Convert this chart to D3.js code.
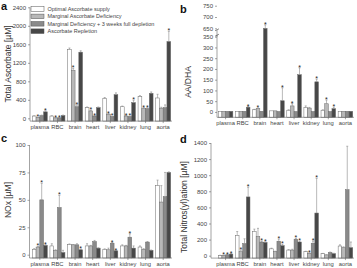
<!DOCTYPE html>
<html lang="en">
<head>
<meta charset="UTF-8">
<title>Ascorbate panels</title>
<script src="https://d3js.org/d3.v7.min.js"></script>
<style>
  body { margin: 0; padding: 0; background: #fff; font-family: "Liberation Sans", Arial, sans-serif; }
  svg text { font-family: "Liberation Sans", Arial, sans-serif; }
</style>
</head>
<body>
<svg id="chart" width="357" height="268"></svg>
<script>
const categories = ["plasma", "RBC", "brain", "heart", "liver", "kidney", "lung", "aorta"];
const seriesNames = ["Optimal Ascorbate supply", "Marginal Ascorbate Deficiency",
  "Marginal Deficiency + 3 weeks full depletion", "Ascorbate Repletion"];

// a - total ascorbate [uM]
const ascOptimal = [50, 50, 1490, 230, 430, 250, 470, 440];
const ascMarginal = [20, 10, 1040, 160, 90, 50, 210, 220];
const ascDepleted = [60, 10, 250, 50, 40, 40, 210, 230];
const ascRepleted = [140, 60, 1430, 230, 510, 340, 540, 1660];
const ascOptimalErr = [5, 5, 30, 15, 20, 15, 20, 80];
const ascMarginalErr = [5, 3, 40, 15, 10, 10, 20, 20];
const ascDepletedErr = [10, 3, 40, 10, 5, 5, 15, 60];
const ascRepletedErr = [20, 10, 30, 15, 40, 50, 30, 220];
const ascStars = [[0, 1], [0, 3], [1, 1], [1, 2], [2, 1], [2, 2], [3, 1], [3, 2], [4, 1], [4, 2],
  [5, 1], [5, 2], [5, 3], [6, 1], [6, 2], [7, 3]];
const ascTicks = [0, 400, 800, 1200, 1600, 2000, 2400];

// b - AA/DHA ratio
const aaOptimal = [3, 3, 10, 5, 8, 20, 8, 3];
const aaMarginal = [3, 3, 15, 5, 28, 18, 38, 3];
const aaDepleted = [3, 3, 3, 2, 2, 2, 2, 3];
const aaRepleted = [3, 22, 645, 52, 173, 140, 15, 3];
const aaOptimalErr = [0, 0, 2, 0, 2, 8, 2, 0];
const aaMarginalErr = [0, 0, 3, 0, 10, 3, 17, 0];
const aaDepletedErr = [0, 0, 0, 0, 0, 0, 0, 0];
const aaRepletedErr = [0, 3, 20, 60, 32, 12, 7, 0];
const aaStars = [[1, 3], [2, 1], [2, 3], [3, 3], [4, 1], [4, 3], [5, 3], [6, 1], [6, 3]];
const aaTicks = [0, 50, 100, 150, 200, 250, 300, 350, 650, 700, 750];

// c - NOx [uM]
const noxOptimal = [5, 8, 9.5, 8, 5, 8, 7, 63];
const noxMarginal = [7, 4, 9, 8, 4.5, 8, 5, 48];
const noxDepleted = [50, 43, 9, 12, 10.5, 16, 11.5, 53];
const noxRepleted = [8.5, 2, 4.5, 6, 3.5, 6, 4, 75];
const noxOptimalErr = [0.5, 2, 0.3, 2, 0.3, 1, 1, 5];
const noxMarginalErr = [0.5, 0.5, 0.3, 0.5, 1.5, 0.5, 0.5, 15];
const noxDepletedErr = [15, 11, 1, 1, 0.5, 3, 0.5, 22];
const noxRepletedErr = [0.5, 2, 0.5, 0.3, 0.3, 2, 0.3, 0.5];
const noxStars = [[0, 1], [0, 2], [0, 3], [1, 2], [2, 3], [4, 2], [4, 3], [5, 2]];
const noxTicks = [0, 25, 50, 75, 100];

// d - total nitros(yl)ation [uM]
const nitOptimal = [3, 250, 300, 85, 70, 50, 25, 120];
const nitMarginal = [5, 50, 240, 50, 70, 30, 10, 100];
const nitDepleted = [10, 150, 170, 180, 205, 155, 40, 820];
const nitRepleted = [20, 730, 165, 125, 170, 530, 25, 100];
const nitOptimalErr = [2, 50, 30, 8, 5, 5, 3, 15];
const nitMarginalErr = [2, 20, 100, 5, 10, 5, 2, 10];
const nitDepletedErr = [3, 60, 10, 25, 10, 25, 5, 540];
const nitRepletedErr = [5, 120, 5, 15, 10, 430, 5, 70];
const nitStars = [[0, 1], [0, 2], [0, 3], [1, 1], [1, 3], [2, 2], [2, 3], [3, 2], [3, 3],
  [4, 2], [4, 3], [5, 1], [5, 2], [5, 3]];
const nitTicks = [0, 200, 400, 600, 800, 1000, 1200, 1400];

const fills = ["#ffffff", "#b8b8b8", "#8a8a8a", "#474747"];
const svg = d3.select("#chart");

function panel(opt) {
  const g = svg.append("g");
  const x = d3.scaleBand().domain(categories).range(opt.xRange);
  const xs = d3.scaleBand().domain(d3.range(4)).range([0, x.bandwidth()]).paddingOuter(0.35);
  const y = d3.scaleLinear().domain(opt.yDomain).range(opt.yRange);
  const base = opt.yRange[0];
  const series = opt.values.map((vals, s) => vals.map((v, i) => ({ s, i, v, e: opt.errors[s][i] })));

  // bars
  series.forEach((rows, s) => {
    g.append("g").selectAll("rect")
      .data(rows)
      .join("rect")
      .attr("x", d => x(categories[d.i]) + xs(s))
      .attr("y", d => y(d.v))
      .attr("width", xs.bandwidth())
      .attr("height", d => base - y(d.v))
      .attr("fill", fills[s])
      .attr("stroke", "#6a6a6a")
      .attr("stroke-width", 0.5);

    // error bars, upward only
    const eb = g.append("g").attr("stroke", "#8a8a8a").attr("stroke-width", 0.6);
    rows.filter(d => d.e > 0).forEach(d => {
      const cx = x(categories[d.i]) + xs(s) + xs.bandwidth() / 2;
      eb.append("line").attr("x1", cx).attr("x2", cx).attr("y1", y(d.v)).attr("y2", y(d.v + d.e));
      eb.append("line").attr("x1", cx - 1).attr("x2", cx + 1).attr("y1", y(d.v + d.e)).attr("y2", y(d.v + d.e));
    });
  });

  // significance stars
  g.append("g").selectAll("text")
    .data(opt.stars)
    .join("text")
    .attr("x", ([i, s]) => x(categories[i]) + xs(s) + xs.bandwidth() / 2)
    .attr("y", ([i, s]) => y(opt.values[s][i] + opt.errors[s][i]) + 2)
    .attr("text-anchor", "middle")
    .attr("font-size", 7)
    .attr("fill", "#222")
    .text("*");

  // y axis
  const ax = opt.axisX;
  const yAxis = g.append("g").attr("transform", `translate(${ax},0)`)
    .call(d3.axisLeft(y).tickValues(opt.ticks).tickSize(2).tickPadding(2).tickFormat(d3.format("d")));
  yAxis.select(".domain").remove();
  yAxis.selectAll("line").attr("stroke", "#666").attr("stroke-width", 0.6);
  yAxis.selectAll("text").attr("font-size", 6).attr("fill", "#444").attr("font-family", null);
  if (opt.breakAt) {
    const [lo, hi] = opt.breakAt;
    g.append("line").attr("x1", ax).attr("x2", ax).attr("y1", base).attr("y2", y(lo) - 1.5)
      .attr("stroke", "#666").attr("stroke-width", 0.6);
    g.append("line").attr("x1", ax).attr("x2", ax).attr("y1", y(hi) + 1.5).attr("y2", opt.yRange[1])
      .attr("stroke", "#666").attr("stroke-width", 0.6);
    [y(lo) - 1.5, y(hi) + 1.5].forEach(yy => {
      g.append("line").attr("x1", ax - 2).attr("x2", ax + 2).attr("y1", yy + 1).attr("y2", yy - 1)
        .attr("stroke", "#444").attr("stroke-width", 0.6);
    });
  } else {
    g.append("line").attr("x1", ax).attr("x2", ax).attr("y1", base).attr("y2", opt.yRange[1])
      .attr("stroke", "#666").attr("stroke-width", 0.6);
  }

  // x axis
  g.append("line").attr("x1", ax).attr("x2", opt.xRange[1]).attr("y1", base).attr("y2", base)
    .attr("stroke", "#666").attr("stroke-width", 0.6);
  const xAxis = g.append("g").attr("transform", `translate(0,${base})`)
    .call(d3.axisBottom(x).tickSize(2).tickPadding(1.5));
  xAxis.select(".domain").remove();
  xAxis.selectAll("line").attr("stroke", "#666").attr("stroke-width", 0.6);
  xAxis.selectAll("text").attr("font-size", 5.8).attr("fill", "#444").attr("font-family", null);

  // y title
  g.append("text")
    .attr("transform", `translate(${opt.titleX},${opt.titleY}) rotate(-90)`)
    .attr("text-anchor", "middle")
    .attr("font-size", 8.5)
    .attr("fill", "#333")
    .text(opt.title);

  // panel letter
  g.append("text")
    .attr("x", opt.letterPos[0]).attr("y", opt.letterPos[1])
    .attr("font-size", 11).attr("font-weight", "bold").attr("fill", "#111")
    .text(opt.letter);
}

panel({
  letter: "a", letterPos: [1, 10],
  title: "Total Ascorbate [\u00b5M]", titleX: 11, titleY: 64,
  xRange: [31, 172], axisX: 30,
  yDomain: [-60, 2400], yRange: [121.1, 7.3], ticks: ascTicks,
  values: [ascOptimal, ascMarginal, ascDepleted, ascRepleted],
  errors: [ascOptimalErr, ascMarginalErr, ascDepletedErr, ascRepletedErr],
  stars: ascStars
});

panel({
  letter: "b", letterPos: [180, 13],
  title: "AA/DHA", titleX: 191, titleY: 82,
  xRange: [217, 354], axisX: 217,
  yDomain: [-25, 350, 650, 750], yRange: [117.3, 36.7, 28.3, 5.7], ticks: aaTicks,
  breakAt: [350, 650],
  values: [aaOptimal, aaMarginal, aaDepleted, aaRepleted],
  errors: [aaOptimalErr, aaMarginalErr, aaDepletedErr, aaRepletedErr],
  stars: aaStars
});

panel({
  letter: "c", letterPos: [1, 142],
  title: "NOx [\u00b5M]", titleX: 11, titleY: 200,
  xRange: [31, 172], axisX: 29.5,
  yDomain: [-3, 100], yRange: [258, 145], ticks: noxTicks,
  values: [noxOptimal, noxMarginal, noxDepleted, noxRepleted],
  errors: [noxOptimalErr, noxMarginalErr, noxDepletedErr, noxRepletedErr],
  stars: noxStars
});

panel({
  letter: "d", letterPos: [180, 143],
  title: "Total Nitros(yl)ation [\u00b5M]", titleX: 187, titleY: 207,
  xRange: [217, 354], axisX: 211,
  yDomain: [-30, 1400], yRange: [258.1, 143], ticks: nitTicks,
  values: [nitOptimal, nitMarginal, nitDepleted, nitRepleted],
  errors: [nitOptimalErr, nitMarginalErr, nitDepletedErr, nitRepletedErr],
  stars: nitStars
});

// legend inside panel a
const legend = svg.append("g").attr("transform", "translate(31,9)");
seriesNames.forEach((name, i) => {
  const row = legend.append("g").attr("transform", `translate(0,${i * 7.4})`);
  row.append("rect").attr("x", 0).attr("y", -2.3).attr("width", 13).attr("height", 4.6)
    .attr("fill", fills[i]).attr("stroke", "#555").attr("stroke-width", 0.5);
  row.append("text").attr("x", 16.5).attr("y", 2).attr("font-size", 5.5).attr("fill", "#444").text(name);
});
</script>
</body>
</html>
